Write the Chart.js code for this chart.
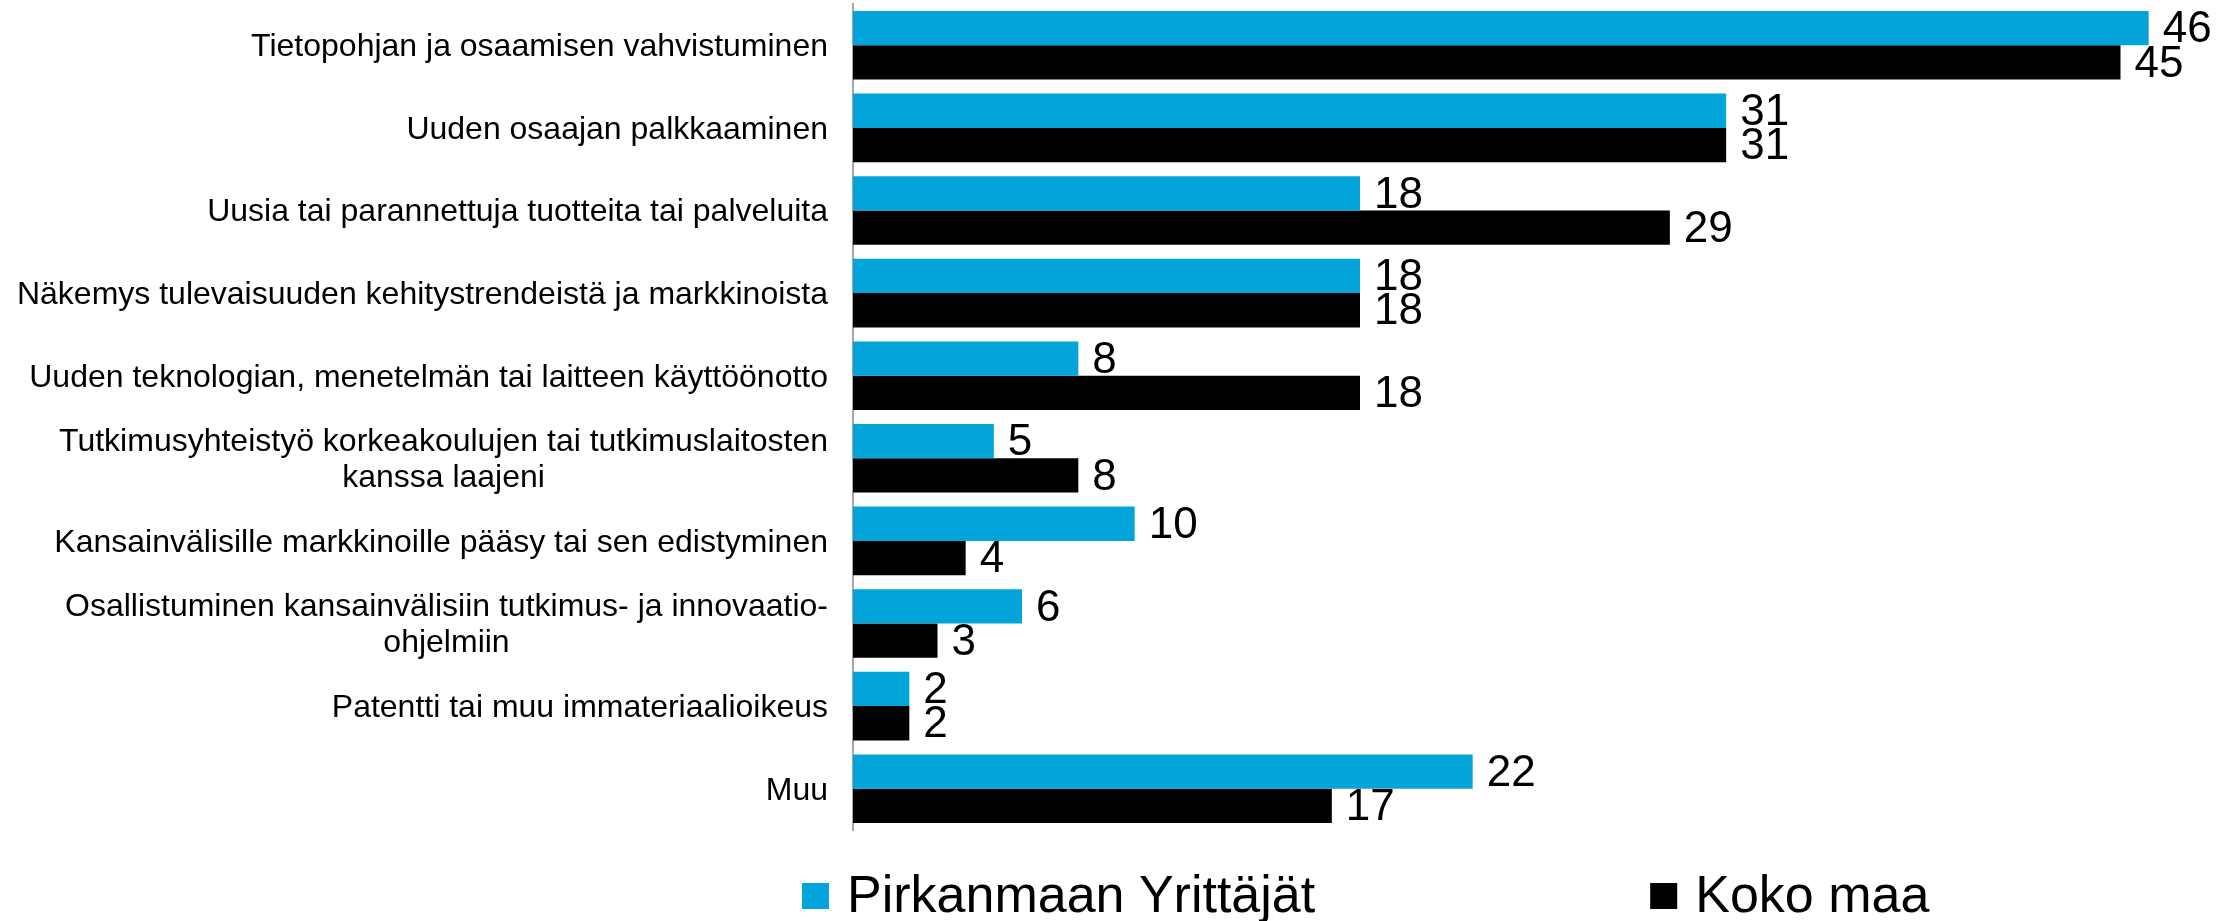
<!DOCTYPE html>
<html lang="fi">
<head>
<meta charset="utf-8">
<title>Hyödyt</title>
<script src="https://cdn.jsdelivr.net/npm/chart.js@4/dist/chart.umd.min.js"></script>
<style>
  html, body { margin: 0; padding: 0; background: #fff; }
  #chart { display: block; }
</style>
</head>
<body>
<canvas id="chart" width="2228" height="921"></canvas>
<script>
const categories = [
    'Tietopohjan ja osaamisen vahvistuminen',
    'Uuden osaajan palkkaaminen',
    'Uusia tai parannettuja tuotteita tai palveluita',
    'Näkemys tulevaisuuden kehitystrendeistä ja markkinoista',
    'Uuden teknologian, menetelmän tai laitteen käyttöönotto',
    ['Tutkimusyhteistyö korkeakoulujen tai tutkimuslaitosten', 'kanssa laajeni'],
    'Kansainvälisille markkinoille pääsy tai sen edistyminen',
    ['Osallistuminen kansainvälisiin tutkimus- ja innovaatio-', 'ohjelmiin'],
    'Patentti tai muu immateriaalioikeus',
    'Muu'
];
const seriesNames = ['Pirkanmaan Yrittäjät', 'Koko maa'];
const pirkanmaa = [46, 31, 18, 18, 8, 5, 10, 6, 2, 22];
const kokoMaa = [45, 31, 29, 18, 18, 8, 4, 3, 2, 17];

const FONT = "'Liberation Sans', Arial, sans-serif";
const BLUE = '#02a4d9';
const BLACK = '#000000';

Chart.defaults.font.family = FONT;
Chart.defaults.color = '#000';

/* ---------- CATEGORY LABELS (block right-aligned, lines centred) ---------- */
const categoryLabels = {
    id: 'categoryLabels',
    afterDraw(chart) {
        const ctx = chart.ctx;
        const y = chart.scales.y;
        const right = y.right - 25;
        const lineH = 36;
        ctx.save();
        ctx.font = `32px ${FONT}`;
        ctx.fillStyle = '#000';
        ctx.textAlign = 'center';
        ctx.textBaseline = 'middle';
        categories.forEach((label, i) => {
            const lines = Array.isArray(label) ? label : [label];
            const w = Math.max(...lines.map(l => ctx.measureText(l).width));
            const cx = right - w / 2;
            const cy = y.getPixelForValue(i);
            lines.forEach((l, k) => {
                ctx.fillText(l, cx, cy + (k - (lines.length - 1) / 2) * lineH + 2);
            });
        });
        ctx.restore();
    }
};

/* ---------- VALUE LABELS ---------- */
const valueLabels = {
    id: 'valueLabels',
    afterDatasetsDraw(chart) {
        const ctx = chart.ctx;
        ctx.save();
        ctx.font = `44px ${FONT}`;
        ctx.fillStyle = '#000';
        ctx.textAlign = 'left';
        ctx.textBaseline = 'middle';
        chart.data.datasets.forEach((ds, di) => {
            chart.getDatasetMeta(di).data.forEach((bar, i) => {
                ctx.fillText(String(ds.data[i]), bar.x + 14, bar.y + 2);
            });
        });
        ctx.restore();
    }
};

/* ---------- LEGEND ROW ---------- */
const legendRow = {
    id: 'legendRow',
    afterDraw(chart) {
        const ctx = chart.ctx;
        const box = 27;
        const cy = 896;
        const gap = 335;
        let x = 802;
        ctx.save();
        ctx.font = `52px ${FONT}`;
        ctx.textAlign = 'left';
        ctx.textBaseline = 'middle';
        chart.data.datasets.forEach(ds => {
            ctx.fillStyle = ds.backgroundColor;
            ctx.fillRect(x, cy - 13, box, 26);
            ctx.fillStyle = '#000';
            const tx = x + box + 18;
            ctx.fillText(ds.label, tx, cy + 2);
            x = tx + ctx.measureText(ds.label).width + gap;
        });
        ctx.restore();
    }
};

new Chart(document.getElementById('chart'), {
    type: 'bar',
    plugins: [categoryLabels, valueLabels, legendRow],
    data: {
        labels: categories,
        datasets: [
            { label: seriesNames[0], data: pirkanmaa, backgroundColor: BLUE },
            { label: seriesNames[1], data: kokoMaa, backgroundColor: BLACK }
        ]
    },
    options: {
        indexAxis: 'y',
        responsive: false,
        animation: false,
        events: [],
        categoryPercentage: 0.83,
        barPercentage: 1.0,
        layout: { padding: { top: 4, right: 23, bottom: 91, left: 0 } },
        plugins: {
            legend: { display: false },
            tooltip: { enabled: false }
        },
        scales: {
            x: {
                display: false,
                min: 0,
                max: 48
            },
            y: {
                grid: { display: false },
                ticks: { display: false },
                border: { display: true, color: '#a6a6a6', width: 2 },
                afterFit(scale) { scale.width = 853; }
            }
        }
    }
});
</script>
</body>
</html>
